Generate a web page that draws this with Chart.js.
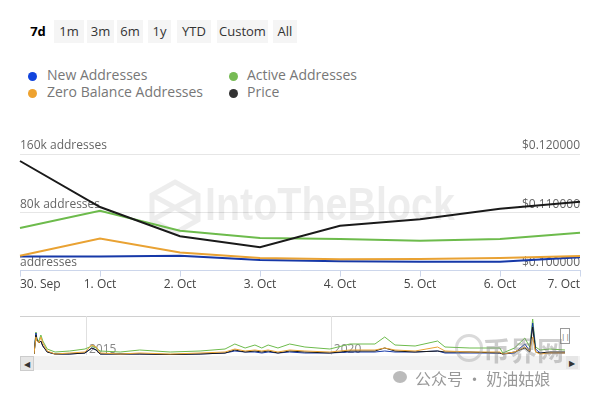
<!DOCTYPE html>
<html>
<head>
<meta charset="utf-8">
<script src="https://cdn.jsdelivr.net/npm/chart.js@4"></script>
<style>
  body { margin: 0; width: 600px; height: 400px; background: #fff; position: relative; overflow: hidden; font-family: "Open Sans", sans-serif; }
  .btn { position: absolute; top: 20px; height: 23px; line-height: 23px; background: #f5f5f5; color: #333; font-size: 13px; text-align: center; }
  .sel { background: none; font-weight: bold; color: #000; }
  .leg { position: absolute; font-size: 14px; color: #777; line-height: 18px; }
  .dot { position: absolute; width: 9px; height: 9px; border-radius: 50%; }
  #main { position: absolute; left: 0; top: 131px; width: 600px; height: 170px; }
  #nav { position: absolute; left: 0; top: 312px; width: 600px; height: 43px; }
</style>
</head>
<body>
<div class="btn sel" style="left:26px;width:24px;">7d</div>
<div class="btn" style="left:54px;width:30px;">1m</div>
<div class="btn" style="left:87px;width:27px;">3m</div>
<div class="btn" style="left:117px;width:26px;">6m</div>
<div class="btn" style="left:148px;width:23px;">1y</div>
<div class="btn" style="left:177px;width:34px;">YTD</div>
<div class="btn" style="left:217px;width:51px;">Custom</div>
<div class="btn" style="left:273px;width:24px;">All</div>

<div class="dot" style="left:28px;top:72px;background:#1144dd;"></div>
<div class="leg" style="left:47px;top:66px;">New Addresses</div>
<div class="dot" style="left:28px;top:89px;background:#eea22f;"></div>
<div class="leg" style="left:47px;top:83px;">Zero Balance Addresses</div>
<div class="dot" style="left:229px;top:72px;background:#77bb55;"></div>
<div class="leg" style="left:247px;top:66px;">Active Addresses</div>
<div class="dot" style="left:229px;top:89px;background:#333;"></div>
<div class="leg" style="left:247px;top:83px;">Price</div>

<div id="main"><canvas id="mainChart"></canvas></div>

<div style="position:absolute;left:20px;top:316px;width:560px;height:1px;background:#d0d0d0;"></div>
<div id="nav"><canvas id="navChart"></canvas></div>
<div style="position:absolute;left:20px;top:356px;width:560px;height:14px;background:#f2f2f2;"></div>
<div style="position:absolute;left:20px;top:356px;width:12px;height:13px;background:#e6e6e6;border:1px solid #ccc;font-size:8px;line-height:13px;text-align:center;color:#333;">&#9664;</div>
<div style="position:absolute;left:566px;top:356px;width:12px;height:13px;background:#e6e6e6;font-size:8px;line-height:13px;text-align:center;color:#333;">&#9654;</div>
<div style="position:absolute;left:560px;top:328px;width:8px;height:14px;background:#fff;border:1px solid #999;font-size:8px;line-height:14px;text-align:center;color:#666;">||</div>

<div style="position:absolute;left:455px;top:334px;width:22px;height:22px;border:3px solid rgba(150,150,150,0.35);border-radius:50%;"></div>
<div style="position:absolute;left:483px;top:330px;font-size:27px;font-weight:bold;color:rgba(130,130,130,0.4);font-family:'Noto Sans CJK SC';">币界网</div>
<div style="position:absolute;left:393px;top:371px;width:14px;height:12px;border-radius:50%;background:#bbb;"></div>
<div style="position:absolute;left:415px;top:366px;font-size:16px;color:#999;font-family:'Noto Sans CJK SC';">公众号 · 奶油姑娘</div>

<script>
// main 7d chart
const dateLabels = ['30. Sep', '1. Oct', '2. Oct', '3. Oct', '4. Oct', '5. Oct', '6. Oct', '7. Oct'];
const newAddresses = [19500, 19500, 20500, 14600, 12700, 12300, 12300, 18200];
const activeAddresses = [58400, 82000, 54700, 44700, 43300, 41000, 43300, 52000];
const zeroBalance = [20500, 44000, 25000, 17400, 15500, 16000, 17400, 20000];
const price = [0.1188, 0.1109, 0.1059, 0.1040, 0.1077, 0.1088, 0.1106, 0.1118];
const leftTickLabels = ['addresses', '80k addresses', '160k addresses'];
const rightTickLabels = ['$0.100000', '$0.110000', '$0.120000'];

// navigator (all history), values in thousands
const navYears = [2013.92, 2013.96, 2013.98, 2014.02, 2014.06, 2014.10, 2014.19, 2014.35, 2014.65, 2014.96,
  2015.10, 2015.19, 2015.27, 2015.68, 2016.08, 2016.70, 2017.31, 2017.82, 2018.02, 2018.23,
  2018.43, 2018.57, 2018.70, 2018.90, 2019.14, 2019.45, 2019.96, 2020.37, 2020.88, 2021.08,
  2021.29, 2021.70, 2022.16, 2022.31, 2022.82, 2023.43, 2023.49, 2023.73, 2023.94, 2024.04,
  2024.10, 2024.16, 2024.25, 2024.45, 2024.76];
const navActive = [10, 230, 160, 140, 200, 140, 60, 30, 40, 60, 90, 70, 40, 30, 50, 30, 40, 60, 110, 70,
  100, 70, 100, 70, 110, 80, 60, 110, 110, 180, 100, 90, 140, 80, 70, 70, 20, 70, 170, 80,
  360, 80, 50, 60, 50];
const navZero = [10, 180, 140, 120, 180, 120, 40, 10, 20, 30, 100, 80, 20, 10, 20, 10, 20, 30, 60, 40,
  50, 40, 50, 30, 50, 40, 30, 50, 50, 70, 50, 40, 80, 40, 30, 30, 10, 30, 80, 40,
  180, 30, 10, 20, 20];
const navNew = [10, 220, 150, 120, 140, 90, 30, 10, 10, 20, 70, 50, 10, 10, 10, 5, 10, 20, 40, 30,
  30, 20, 30, 20, 30, 20, 20, 30, 30, 40, 30, 30, 40, 20, 20, 20, 10, 20, 110, 40,
  320, 60, 20, 20, 20];
const navPrice = [10, 200, 150, 120, 140, 90, 30, 10, 10, 20, 70, 50, 10, 10, 10, 5, 10, 20, 50, 30,
  40, 30, 40, 20, 40, 30, 20, 40, 40, 70, 40, 30, 40, 30, 30, 20, 10, 30, 70, 30,
  280, 30, 20, 30, 30];
const navGridYears = [2015, 2020];

const blue = '#1638a8', green = '#6dbb4c', orange = '#e9a233', black = '#1a1a1a';

const axisText = {
  id: 'axisText',
  beforeDatasetsDraw(chart) {
    const ctx = chart.ctx, a = chart.chartArea;
    ctx.save();
    // watermark
    ctx.fillStyle = 'rgba(0,0,0,0.07)';
    ctx.font = 'bold 46px "Liberation Sans Narrow", "Liberation Sans", sans-serif';
    ctx.textBaseline = 'middle';
    ctx.textAlign = 'left';
    const w = ctx.measureText('IntoTheBlock').width;
    ctx.save();
    ctx.translate(205, 76);
    ctx.scale(250 / w, 1);
    ctx.fillText('IntoTheBlock', 0, 0);
    ctx.restore();
    ctx.strokeStyle = 'rgba(0,0,0,0.07)';
    ctx.lineWidth = 5;
    ctx.beginPath();
    ctx.moveTo(175, 51); ctx.lineTo(198, 64); ctx.lineTo(198, 89); ctx.lineTo(175, 102);
    ctx.lineTo(152, 89); ctx.lineTo(152, 64); ctx.closePath();
    ctx.moveTo(152, 64); ctx.lineTo(198, 89);
    ctx.moveTo(198, 64); ctx.lineTo(152, 89);
    ctx.stroke();

    ctx.font = '12px "Open Sans", sans-serif';
    ctx.fillStyle = '#666';
    ctx.textBaseline = 'bottom';
    const yl = chart.scales.yL, yr = chart.scales.yR;
    yl.ticks.forEach((t, i) => {
      ctx.textAlign = 'left';
      ctx.fillText(leftTickLabels[i], a.left, yl.getPixelForValue(t.value) - 2);
    });
    yr.ticks.forEach((t, i) => {
      ctx.textAlign = 'right';
      ctx.fillText(rightTickLabels[i], a.right, yr.getPixelForValue(t.value) - 2);
    });
    ctx.restore();
  }
};

new Chart(document.getElementById('mainChart'), {
  type: 'line',
  data: {
    labels: dateLabels,
    datasets: [
      { label: 'Price', data: price, yAxisID: 'yR', borderColor: black, borderWidth: 2, pointRadius: 0, tension: 0 },
      { label: 'Active Addresses', data: activeAddresses, yAxisID: 'yL', borderColor: green, borderWidth: 2, pointRadius: 0, tension: 0 },
      { label: 'Zero Balance Addresses', data: zeroBalance, yAxisID: 'yL', borderColor: orange, borderWidth: 2, pointRadius: 0, tension: 0 },
      { label: 'New Addresses', data: newAddresses, yAxisID: 'yL', borderColor: blue, borderWidth: 2, pointRadius: 0, tension: 0 }
    ]
  },
  options: {
    responsive: true,
    maintainAspectRatio: false,
    animation: false,
    layout: { padding: { left: 20, right: 20, top: 23, bottom: 8 } },
    plugins: { legend: { display: false }, tooltip: { enabled: false } },
    scales: {
      x: {
        offset: false,
        grid: { drawOnChartArea: false, drawTicks: true, tickLength: 6, color: '#ccd6eb' },
        border: { color: '#ccd6eb' },
        ticks: { color: '#444', font: { size: 12, family: '"Open Sans", sans-serif' }, align: 'inner', maxRotation: 0, padding: 1 }
      },
      yL: {
        position: 'left', min: 0, max: 160000,
        ticks: { display: false, stepSize: 80000 },
        grid: { color: '#e6e6e6', drawTicks: false },
        border: { display: false }
      },
      yR: {
        position: 'right', min: 0.1, max: 0.12,
        ticks: { display: false, stepSize: 0.01 },
        grid: { display: false, drawTicks: false },
        border: { display: false }
      }
    }
  },
  plugins: [axisText]
});

const navText = {
  id: 'navText',
  beforeDatasetsDraw(chart) {
    const ctx = chart.ctx, a = chart.chartArea, x = chart.scales.x;
    ctx.save();
    ctx.font = '12px "Open Sans", sans-serif';
    ctx.fillStyle = '#888';
    ctx.textBaseline = 'bottom';
    ctx.textAlign = 'left';
    navGridYears.forEach(yr => ctx.fillText(String(yr), x.getPixelForValue(yr) + 2, a.bottom + 1));
    ctx.restore();
  }
};

const toPts = arr => arr.map((v, i) => ({ x: navYears[i], y: v }));

new Chart(document.getElementById('navChart'), {
  type: 'line',
  data: {
    datasets: [
      { data: toPts(navZero), borderColor: orange, borderWidth: 1, pointRadius: 0 },
      { data: toPts(navPrice), borderColor: black, borderWidth: 1, pointRadius: 0 },
      { data: toPts(navNew), borderColor: blue, borderWidth: 1, pointRadius: 0 },
      { data: toPts(navActive), borderColor: green, borderWidth: 1, pointRadius: 0 }
    ]
  },
  options: {
    responsive: true,
    maintainAspectRatio: false,
    animation: false,
    layout: { padding: { left: 34, right: 35, top: 4, bottom: 0 } },
    plugins: { legend: { display: false }, tooltip: { enabled: false } },
    scales: {
      x: {
        type: 'linear', min: navYears[0], max: navYears[navYears.length - 1],
        afterBuildTicks: s => { s.ticks = navGridYears.map(v => ({ value: v })); },
        ticks: { display: false },
        grid: { color: '#e0e0e0', drawTicks: false },
        border: { display: false }
      },
      y: { min: 0, max: 390, display: false }
    }
  },
  plugins: [navText]
});
</script>
</body>
</html>
